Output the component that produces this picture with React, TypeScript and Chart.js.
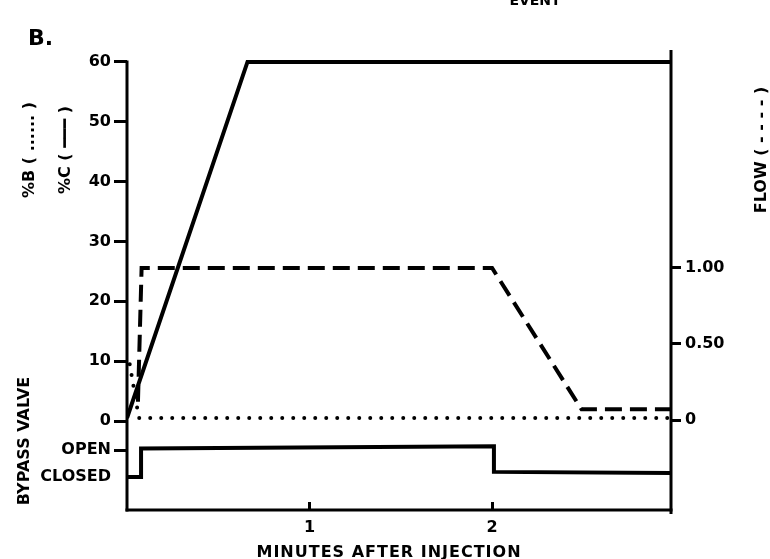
import React, { useEffect, useRef } from 'react';
import { Chart, registerables } from 'chart.js';

Chart.register(...registerables);

const FONT = "'DejaVu Sans', 'Liberation Sans', sans-serif";

// %C gradient (solid)
const TIME_C = [0, 0.66, 2.98];
const PCT_C = [0.5, 60, 60];
// %B gradient (dotted)
const TIME_B = [0.015, 0.065, 2.98];
const PCT_B = [9.5, 0.5, 0.5];
// Flow (dashed, right axis)
const TIME_FLOW = [0.06, 0.08, 2.0, 2.49, 2.98];
const FLOW = [0.12, 1.0, 1.0, 0.07, 0.07];
// Bypass valve state (plotted on the left axis, lower panel)
const TIME_VALVE = [0, 0.077, 0.077, 2.01, 2.01, 2.98];
const VALVE_LEVEL = [-9.36, -9.36, -4.6, -4.2, -8.5, -8.7];

// axes
const X_MIN = 0;
const X_MAX = 2.98;
const X_TICKS = [1, 2];
const PCT_MIN = -14.87;
const PCT_MAX = 62;
const PCT_TICKS = [0, 10, 20, 30, 40, 50, 60];
const VALVE_TICK_VALUES = [-9.36, -4.85];
const VALVE_TICK_LABELS = ['CLOSED', 'OPEN'];
const FLOW_MIN = -0.592;
const FLOW_MAX = 2.434;
const FLOW_TICKS = [0, 0.5, 1];
const FLOW_TICK_LABELS = ['0', '0.50', '1.00'];

const pts = (xs: number[], ys: number[]) => xs.map((x, i) => ({ x, y: ys[i] }));

const decorPlugin = {
  id: 'decor',
  afterDatasetsDraw(chart: any) {
    const { ctx, chartArea } = chart;
    const y = chart.scales.y;
    ctx.save();
    ctx.strokeStyle = '#000';
    ctx.lineWidth = 3;
    ctx.lineCap = 'butt';
    // left axis (starts at 60)
    ctx.beginPath();
    ctx.moveTo(chartArea.left, y.getPixelForValue(60) - 1.5);
    ctx.lineTo(chartArea.left, chartArea.bottom + 1.5);
    ctx.stroke();
    // bottom axis
    ctx.beginPath();
    ctx.moveTo(chartArea.left - 1.5, chartArea.bottom);
    ctx.lineTo(chartArea.right + 1.5, chartArea.bottom);
    ctx.stroke();
    // right axis
    ctx.beginPath();
    ctx.moveTo(chartArea.right, chartArea.top);
    ctx.lineTo(chartArea.right, chartArea.bottom + 4);
    ctx.stroke();
    ctx.restore();
  },
  afterDraw(chart: any) {
    const { ctx } = chart;
    ctx.save();
    ctx.fillStyle = '#000';
    ctx.textAlign = 'left';
    ctx.textBaseline = 'alphabetic';
    ctx.font = `bold 22px ${FONT}`;
    ctx.fillText('B.', 28, 45);
    ctx.textAlign = 'center';
    ctx.font = `bold 14px ${FONT}`;
    ctx.fillText('EVENT', 535, 5);
    ctx.font = `bold 16px ${FONT}`;
    (ctx as any).letterSpacing = '1px';
    ctx.fillText('MINUTES AFTER INJECTION', 389, 557);
    (ctx as any).letterSpacing = '0px';
    const rot = (text: string, x: number, yy: number, size: number) => {
      ctx.save();
      ctx.translate(x, yy);
      ctx.rotate(-Math.PI / 2);
      ctx.textAlign = 'center';
      ctx.textBaseline = 'middle';
      ctx.font = `bold ${size}px ${FONT}`;
      ctx.fillText(text, 0, 0);
      ctx.restore();
    };
    rot('%B ( ...... )', 30, 150, 16);
    rot('%C ( \u2501\u2501\u2501 )', 66, 150, 16);
    rot('BYPASS VALVE', 25, 441, 16);
    rot('FLOW ( - - - - )', 762, 150, 16);
    ctx.restore();
  },
};

export default function App() {
  const ref = useRef<HTMLCanvasElement | null>(null);
  useEffect(() => {
    if (!ref.current) return;
    const tickFont = { family: FONT, size: 16, weight: 'bold' as const };
    const chart = new Chart(ref.current, {
      type: 'line',
      data: {
        datasets: [
          {
            label: '%C',
            data: pts(TIME_C, PCT_C),
            yAxisID: 'y',
            borderColor: '#000',
            borderWidth: 4,
            pointRadius: 0,
            tension: 0,
            fill: false,
            borderJoinStyle: 'miter',
          },
          {
            label: '%B',
            data: pts(TIME_B, PCT_B),
            yAxisID: 'y',
            borderColor: '#000',
            borderWidth: 4,
            borderDash: [0, 11],
            borderCapStyle: 'round',
            pointRadius: 0,
            tension: 0,
            fill: false,
          },
          {
            label: 'FLOW',
            data: pts(TIME_FLOW, FLOW),
            yAxisID: 'y2',
            borderColor: '#000',
            borderWidth: 4,
            borderDash: [17, 8],
            pointRadius: 0,
            tension: 0,
            fill: false,
            borderJoinStyle: 'miter',
          },
          {
            label: 'BYPASS VALVE',
            data: pts(TIME_VALVE, VALVE_LEVEL),
            yAxisID: 'y',
            borderColor: '#000',
            borderWidth: 4,
            pointRadius: 0,
            tension: 0,
            fill: false,
            borderJoinStyle: 'miter',
          },
        ],
      },
      options: {
        responsive: false,
        animation: false,
        events: [],
        layout: { padding: { top: 50, left: 0, right: 0, bottom: 0 } },
        plugins: { legend: { display: false }, tooltip: { enabled: false } },
        scales: {
          x: {
            type: 'linear',
            position: 'bottom',
            min: X_MIN,
            max: X_MAX,
            afterBuildTicks: (s: any) => {
              s.ticks = X_TICKS.map((v) => ({ value: v }));
            },
            afterFit: (s: any) => {
              s.height = 49;
            },
            ticks: {
              autoSkip: false,
              maxRotation: 0,
              color: '#000',
              font: tickFont,
              padding: 16,
              callback: (v: any) => String(v),
            },
            grid: { drawOnChartArea: false, tickLength: -8, lineWidth: 3, color: '#000' },
            border: { display: false },
          },
          y: {
            type: 'linear',
            position: 'left',
            min: PCT_MIN,
            max: PCT_MAX,
            afterBuildTicks: (s: any) => {
              s.ticks = [...VALVE_TICK_VALUES, ...PCT_TICKS].map((v) => ({ value: v }));
            },
            afterFit: (s: any) => {
              s.width = 127;
            },
            ticks: {
              autoSkip: false,
              color: '#000',
              font: tickFont,
              padding: 3,
              callback: (v: any) => {
                const i = VALVE_TICK_VALUES.indexOf(v);
                return i >= 0 ? VALVE_TICK_LABELS[i] : String(v);
              },
            },
            grid: {
              drawOnChartArea: false,
              tickLength: 13,
              lineWidth: 3,
              color: (c: any) =>
                c.tick && c.tick.value === VALVE_TICK_VALUES[0] ? 'rgba(0,0,0,0)' : '#000',
            },
            border: { display: false },
          },
          y2: {
            type: 'linear',
            position: 'right',
            min: FLOW_MIN,
            max: FLOW_MAX,
            afterBuildTicks: (s: any) => {
              s.ticks = FLOW_TICKS.map((v) => ({ value: v }));
            },
            afterFit: (s: any) => {
              s.width = 99;
            },
            ticks: {
              autoSkip: false,
              color: '#000',
              font: tickFont,
              padding: 4,
              callback: (v: any) => {
                const i = FLOW_TICKS.indexOf(v);
                return i >= 0 ? FLOW_TICK_LABELS[i] : '';
              },
            },
            grid: { drawOnChartArea: false, tickLength: 10, lineWidth: 3, color: '#000' },
            border: { display: false },
          },
        },
      },
      plugins: [decorPlugin],
    } as any);
    return () => chart.destroy();
  }, []);
  return (
    <div style={{ position: 'fixed', left: 0, top: 0, width: 770, height: 559, background: '#fff' }}>
      <canvas ref={ref} width={770} height={559} style={{ display: 'block' }} />
    </div>
  );
}
